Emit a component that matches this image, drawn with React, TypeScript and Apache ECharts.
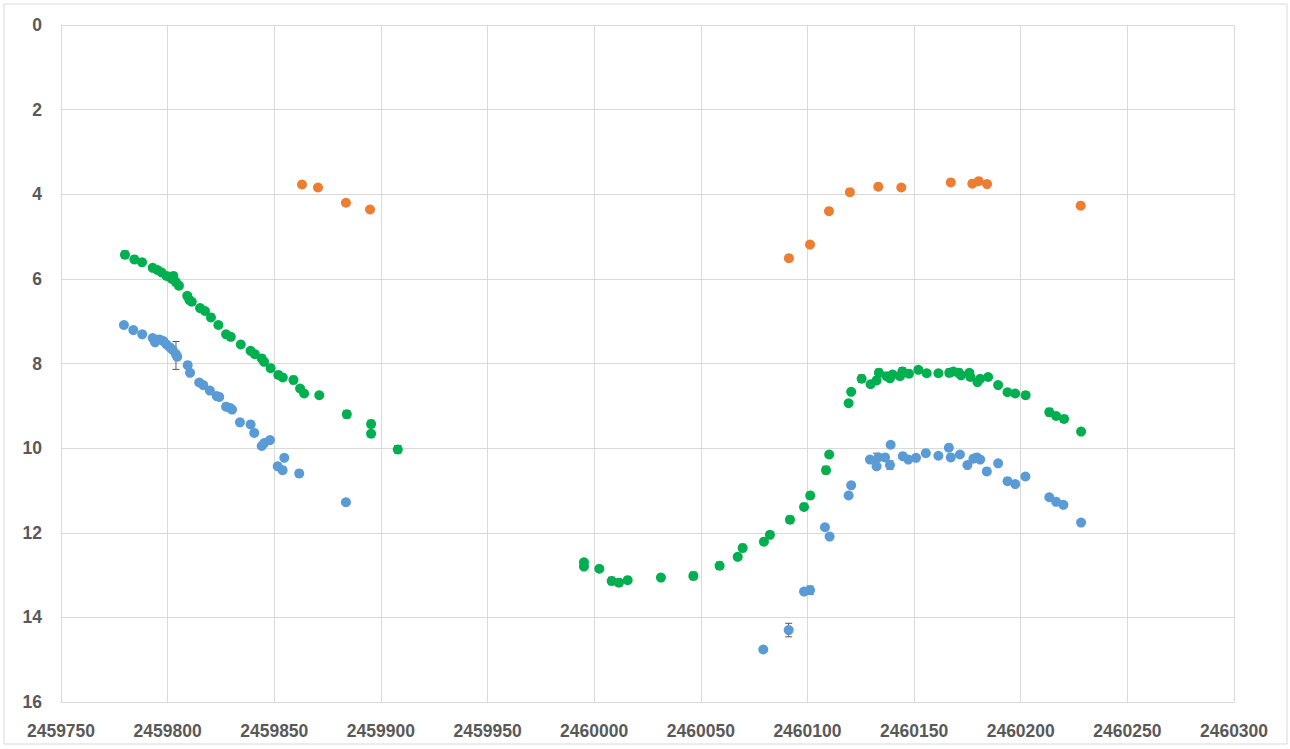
import React, { useEffect, useRef } from "react";
import * as echarts from "echarts";

// [Julian date, magnitude]
const orangeData: number[][] = [
  [2459863.0, 3.77], [2459870.5, 3.84], [2459883.6, 4.2], [2459894.9, 4.36],
  [2460091.3, 5.51], [2460101.2, 5.19], [2460110.1, 4.4], [2460119.9, 3.95],
  [2460133.2, 3.82], [2460144.0, 3.84], [2460167.2, 3.72], [2460177.3, 3.75],
  [2460180.3, 3.69], [2460184.2, 3.76], [2460228.1, 4.27],
];

const greenData: number[][] = [
  [2459780.0, 5.43], [2459784.4, 5.54], [2459788.0, 5.61], [2459793.0, 5.74],
  [2459795.2, 5.79], [2459797.2, 5.85], [2459799.5, 5.93], [2459801.9, 6.0],
  [2459802.7, 5.93], [2459803.9, 6.08], [2459805.3, 6.16], [2459809.2, 6.4],
  [2459810.2, 6.5], [2459811.3, 6.54], [2459815.2, 6.69], [2459817.5, 6.76],
  [2459820.3, 6.91], [2459823.8, 7.09], [2459827.4, 7.31], [2459829.6, 7.37],
  [2459834.3, 7.55], [2459838.9, 7.7], [2459840.9, 7.78], [2459844.1, 7.88],
  [2459845.2, 7.96], [2459848.3, 8.11], [2459851.9, 8.27], [2459854.0, 8.33],
  [2459859.0, 8.39], [2459862.1, 8.59], [2459864.0, 8.71], [2459871.1, 8.75],
  [2459884.0, 9.2], [2459895.4, 9.43], [2459895.4, 9.66], [2459907.9, 10.03],
  [2459995.2, 12.7], [2459995.2, 12.8], [2460002.4, 12.85], [2460008.2, 13.14],
  [2460011.6, 13.18], [2460015.7, 13.12], [2460031.3, 13.06], [2460046.5, 13.02],
  [2460058.8, 12.78], [2460067.3, 12.57], [2460069.6, 12.36], [2460079.6, 12.21],
  [2460082.4, 12.05], [2460091.8, 11.69], [2460098.4, 11.39], [2460101.3, 11.12],
  [2460108.7, 10.52], [2460110.2, 10.15], [2460119.3, 8.94], [2460120.5, 8.67],
  [2460125.4, 8.36], [2460129.6, 8.49], [2460132.4, 8.4], [2460133.5, 8.22],
  [2460137.1, 8.3], [2460138.7, 8.35], [2460139.9, 8.26], [2460143.4, 8.3],
  [2460144.5, 8.19], [2460147.6, 8.24], [2460152.0, 8.15], [2460155.9, 8.23],
  [2460161.4, 8.23], [2460166.5, 8.22], [2460168.4, 8.19], [2460171.0, 8.22],
  [2460172.0, 8.28], [2460175.9, 8.22], [2460176.4, 8.32], [2460179.7, 8.44],
  [2460181.0, 8.36], [2460184.7, 8.32], [2460189.4, 8.51], [2460193.8, 8.68],
  [2460197.4, 8.71], [2460202.3, 8.75], [2460213.4, 9.15], [2460216.6, 9.24],
  [2460220.3, 9.31], [2460228.3, 9.61],
];

const blueData: number[][] = [
  [2459779.5, 7.09], [2459783.9, 7.21], [2459788.1, 7.31], [2459793.0, 7.4],
  [2459794.1, 7.5], [2459796.1, 7.43], [2459798.0, 7.47], [2459799.5, 7.55],
  [2459801.1, 7.62], [2459802.4, 7.68], [2459803.9, 7.78], [2459804.5, 7.84],
  [2459809.4, 8.04], [2459810.5, 8.22], [2459814.8, 8.45], [2459816.7, 8.51],
  [2459819.8, 8.64], [2459823.0, 8.77], [2459824.2, 8.79], [2459827.4, 9.02],
  [2459829.2, 9.05], [2459830.2, 9.09], [2459833.9, 9.39], [2459838.9, 9.44],
  [2459840.6, 9.64], [2459844.1, 9.95], [2459845.3, 9.88], [2459848.0, 9.81],
  [2459851.6, 10.43], [2459853.9, 10.52], [2459854.7, 10.23], [2459861.7, 10.6],
  [2459883.6, 11.28],
  [2460079.3, 14.76], [2460091.2, 14.3], [2460098.4, 13.39], [2460101.2, 13.36],
  [2460108.2, 11.87], [2460110.4, 12.09], [2460119.3, 11.12], [2460120.5, 10.88],
  [2460129.3, 10.27], [2460132.4, 10.43], [2460133.2, 10.22], [2460136.4, 10.22],
  [2460139.0, 9.92], [2460138.7, 10.4], [2460144.7, 10.19], [2460147.3, 10.27],
  [2460150.9, 10.23], [2460155.5, 10.12], [2460161.4, 10.18], [2460166.3, 9.99],
  [2460167.2, 10.22], [2460171.5, 10.15], [2460175.0, 10.4], [2460177.8, 10.25],
  [2460179.4, 10.22], [2460181.0, 10.27], [2460184.1, 10.55], [2460189.4, 10.36],
  [2460193.8, 10.78], [2460197.4, 10.85], [2460202.2, 10.67], [2460213.4, 11.16],
  [2460216.6, 11.27], [2460220.0, 11.34], [2460228.3, 11.76],
];

// [Julian date, magnitude, error]
const greenErrors: number[][] = [
  [2459780.0, 5.43, 0.09], [2459803.9, 6.08, 0.08], [2459829.6, 7.37, 0.08],
  [2459851.9, 8.27, 0.08], [2459859.0, 8.39, 0.09], [2459884.0, 9.2, 0.09],
  [2459895.4, 9.43, 0.09], [2459895.4, 9.66, 0.08], [2459907.9, 10.03, 0.09],
  [2460008.2, 13.14, 0.09], [2460011.6, 13.18, 0.08], [2460046.5, 13.02, 0.09],
  [2460058.8, 12.78, 0.09], [2460069.6, 12.36, 0.09], [2460082.4, 12.05, 0.08],
  [2460091.8, 11.69, 0.08], [2460101.3, 11.12, 0.08], [2460108.7, 10.52, 0.09],
  [2460125.4, 8.36, 0.09], [2460133.5, 8.22, 0.09], [2460144.5, 8.19, 0.09],
  [2460166.5, 8.22, 0.09], [2460171.0, 8.22, 0.09], [2460202.3, 8.75, 0.08],
  [2460213.4, 9.15, 0.09], [2460220.3, 9.31, 0.08],
];

const blueErrors: number[][] = [
  [2459803.9, 7.81, 0.33], [2460091.2, 14.3, 0.16], [2460101.2, 13.36, 0.1],
  [2460132.4, 10.22, 0.1], [2460138.7, 10.4, 0.1], [2459861.7, 10.6, 0.08],
];

const X_MIN = 2459750;
const X_MAX = 2460300;
const X_STEP = 50;
const Y_MIN = 0;
const Y_MAX = 16;
const Y_STEP = 2;

const COLORS = { orange: "#ED7D31", green: "#00B050", blue: "#5B9BD5", err: "#595959" };

function errorRender(params: any, api: any) {
  const x = api.value(0);
  const y = api.value(1);
  const e = api.value(2);
  const top = api.coord([x, y - e]);
  const bot = api.coord([x, y + e]);
  const cap = 3.5;
  const style = { stroke: COLORS.err, lineWidth: 1 };
  return {
    type: "group",
    children: [
      { type: "line", shape: { x1: top[0], y1: top[1], x2: bot[0], y2: bot[1] }, style },
      { type: "line", shape: { x1: top[0] - cap, y1: top[1], x2: top[0] + cap, y2: top[1] }, style },
      { type: "line", shape: { x1: bot[0] - cap, y1: bot[1], x2: bot[0] + cap, y2: bot[1] }, style },
    ],
  };
}

export default function App() {
  const ref = useRef<HTMLDivElement>(null);
  useEffect(() => {
    if (!ref.current) return;
    const chart = echarts.init(ref.current, undefined, { renderer: "svg" });
    const labelStyle = {
      color: "#595959",
      fontFamily: "Liberation Sans",
      fontWeight: "bold" as const,
      fontSize: 17.5,
    };
    const scatter = (name: string, data: number[][], color: string) => ({
      name,
      type: "scatter",
      data,
      symbol: "circle",
      symbolSize: 10,
      itemStyle: { color, opacity: 1 },
      z: 3,
    });
    chart.setOption({
      animation: false,
      backgroundColor: "#ffffff",
      graphic: [
        {
          type: "rect",
          shape: { x: 4, y: 4, width: 1283, height: 740 },
          style: { fill: "none", stroke: "#D9D9D9", lineWidth: 1 },
          silent: true,
        },
      ],
      grid: { left: 61, top: 25, right: 56, bottom: 47, containLabel: false },
      xAxis: {
        type: "value",
        min: X_MIN,
        max: X_MAX,
        interval: X_STEP,
        axisLine: { show: true, onZero: false, lineStyle: { color: "#D9D9D9" } },
        axisTick: { show: false },
        splitLine: { show: true, lineStyle: { color: "#D9D9D9", width: 1 } },
        axisLabel: { ...labelStyle, margin: 20, formatter: (v: number) => String(v) },
      },
      yAxis: {
        type: "value",
        inverse: true,
        min: Y_MIN,
        max: Y_MAX,
        interval: Y_STEP,
        axisLine: { show: true, onZero: false, lineStyle: { color: "#D9D9D9" } },
        axisTick: { show: false },
        splitLine: { show: true, lineStyle: { color: "#D9D9D9", width: 1 } },
        axisLabel: { ...labelStyle, margin: 19 },
      },
      series: [
        { type: "custom", name: "greenErr", data: greenErrors, renderItem: errorRender, z: 2 },
        { type: "custom", name: "blueErr", data: blueErrors, renderItem: errorRender, z: 2 },
        scatter("orange", orangeData, COLORS.orange),
        scatter("green", greenData, COLORS.green),
        scatter("blue", blueData, COLORS.blue),
      ],
    });
    return () => chart.dispose();
  }, []);
  return (
    <div
      ref={ref}
      style={{ position: "absolute", left: 0, top: 0, width: 1290, height: 749, background: "#fff" }}
    />
  );
}
